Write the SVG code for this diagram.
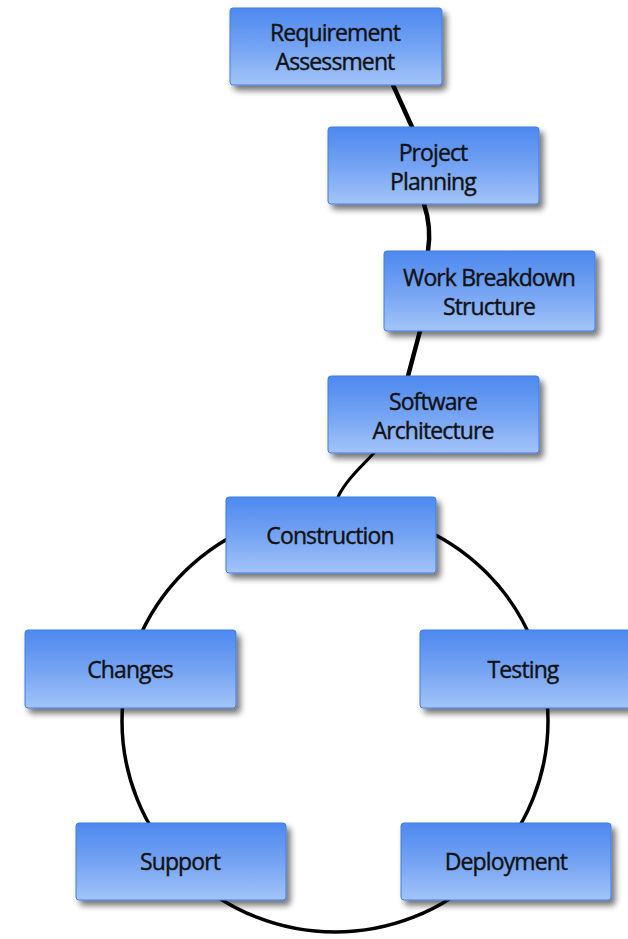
<svg xmlns="http://www.w3.org/2000/svg" width="628" height="939" viewBox="0 0 628 939">
<defs>
<linearGradient id="boxGrad" x1="0" y1="0" x2="0" y2="1">
<stop offset="0" stop-color="#4d89ef"/>
<stop offset="0.5" stop-color="#74a3f3"/>
<stop offset="1" stop-color="#a3c4f8"/>
</linearGradient>
<filter id="shadow" x="-10%" y="-10%" width="130%" height="140%">
<feGaussianBlur in="SourceAlpha" stdDeviation="3"/>
<feOffset dx="4" dy="5" result="b"/>
<feComponentTransfer><feFuncA type="linear" slope="0.55"/></feComponentTransfer>
<feMerge><feMergeNode/><feMergeNode in="SourceGraphic"/></feMerge>
</filter>
<style>
.box{fill:url(#boxGrad);stroke:#3f7fe6;stroke-width:1;filter:url(#shadow)}
.lbl{font-family:"Open Sans","DejaVu Sans",sans-serif;font-size:23px;fill:#111;stroke:#111;stroke-width:0.4;text-anchor:middle;letter-spacing:-0.9px}
.con{fill:none;stroke:#000;stroke-width:4.5;stroke-linecap:round}
.ring{fill:none;stroke:#000;stroke-width:3.5}
</style>
</defs>
<rect width="628" height="939" fill="#ffffff"/>
<g id="connectors">
<path class="con" d="M393,85 L412,127"/>
<path class="con" d="M424,204 C430,222 430,238 428,251"/>
<path class="con" d="M420,331 L408,376"/>
<path class="con" d="M374,453 C362,466 346,480 338,497" style="stroke-width:3"/>
<ellipse class="ring" cx="335" cy="721" rx="213" ry="211"/>
</g>
<g id="node-requirement">
<rect class="box" x="230" y="8" width="212" height="77" rx="3"/>
<text class="lbl" x="335" y="41">Requirement</text>
<text class="lbl" x="335" y="70">Assessment</text>
</g>
<g id="node-planning">
<rect class="box" x="328" y="127" width="211" height="77" rx="3"/>
<text class="lbl" x="433" y="161">Project</text>
<text class="lbl" x="433" y="190">Planning</text>
</g>
<g id="node-wbs">
<rect class="box" x="384" y="251" width="211" height="80" rx="3"/>
<text class="lbl" x="489" y="286">Work Breakdown</text>
<text class="lbl" x="489" y="315">Structure</text>
</g>
<g id="node-architecture">
<rect class="box" x="328" y="376" width="211" height="77" rx="3"/>
<text class="lbl" x="433" y="410">Software</text>
<text class="lbl" x="433" y="439">Architecture</text>
</g>
<g id="node-construction">
<rect class="box" x="226" y="497" width="210" height="76" rx="3"/>
<text class="lbl" x="330" y="544">Construction</text>
</g>
<g id="node-changes">
<rect class="box" x="25" y="630" width="211" height="78" rx="3"/>
<text class="lbl" x="130" y="678">Changes</text>
</g>
<g id="node-testing">
<rect class="box" x="420" y="630" width="211" height="78" rx="3"/>
<text class="lbl" x="523" y="678">Testing</text>
</g>
<g id="node-support">
<rect class="box" x="76" y="823" width="210" height="77" rx="3"/>
<text class="lbl" x="180" y="870">Support</text>
</g>
<g id="node-deployment">
<rect class="box" x="401" y="823" width="210" height="77" rx="3"/>
<text class="lbl" x="506" y="870">Deployment</text>
</g>
</svg>
